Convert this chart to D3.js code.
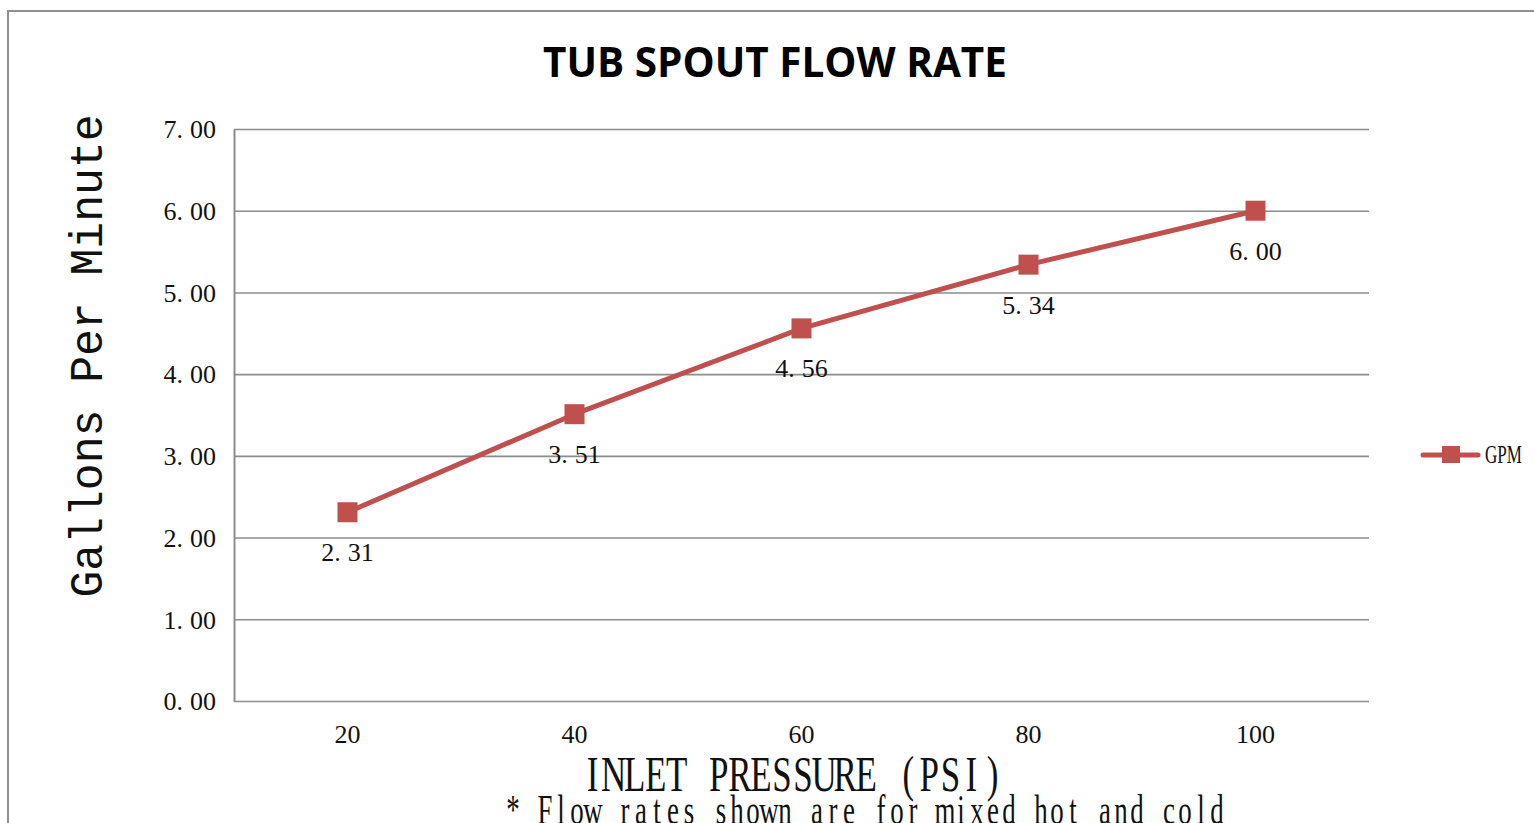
<!DOCTYPE html>
<html>
<head>
<meta charset="utf-8">
<script src="https://cdn.jsdelivr.net/npm/d3@7"></script>
<style>
  html, body { margin: 0; padding: 0; background: #fff; overflow: hidden; }
  svg { display: block; }
</style>
</head>
<body>
<script>
// ---- data ----
const pressures = [20, 40, 60, 80, 100];
const gpm = [2.31, 3.51, 4.56, 5.34, 6.00];
const yTicks = [0, 1, 2, 3, 4, 5, 6, 7];
const seriesName = "GPM";
const titleText = "TUB SPOUT FLOW RATE";
const yTitle = "Gallons Per Minute";
const xTitle = "INLET PRESSURE (PSI)";
const footnote = "* Flow rates shown are for mixed hot and cold";

const W = 1534, H = 823;
const plot = { left: 234, right: 1369, top: 129, bottom: 701 };
const red = "#C0504D";
const grid = "#8c8c8c";
const serif = "'Liberation Serif', 'DejaVu Serif', serif";

const svg = d3.select("body").append("svg").attr("width", W).attr("height", H);

// outer frame
svg.append("path")
  .attr("d", `M8,${H + 5} L8,11 L${W + 5},11`)
  .attr("fill", "none").attr("stroke", "#8f8f8f").attr("stroke-width", 2);

const x = d3.scaleBand().domain(pressures).range([plot.left, plot.right]);
const cx = d => x(d) + x.bandwidth() / 2;
const y = d3.scaleLinear().domain([0, 7]).range([plot.bottom, plot.top]);

// split "7.00" into "7." + "00" with a gap like the reference font
function fmtSplit(sel, v) {
  const s = d3.format(".2f")(v);
  const i = s.indexOf(".");
  sel.text(null);
  sel.append("tspan").text(s.slice(0, i + 1));
  sel.append("tspan").attr("dx", 7).text(s.slice(i + 1));
}

// fixed-cell (half-width) serif text, like the reference's CJK font
function cellText(str, x0, baseline, cell, fontSize, sx) {
  const xs = Array.from(str).map((c, i) => ((i + 0.5) * cell / sx).toFixed(2)).join(" ");
  return svg.append("text")
    .attr("transform", `translate(${x0},${baseline}) scale(${sx},1)`)
    .attr("x", xs).attr("y", 0)
    .attr("text-anchor", "middle")
    .attr("font-family", serif).attr("font-size", fontSize).attr("fill", "#111")
    .text(str);
}

// y axis + gridlines
const yAxis = svg.append("g")
  .attr("transform", `translate(${plot.left},0)`)
  .call(d3.axisLeft(y).tickValues(yTicks)
    .tickSizeInner(-(plot.right - plot.left)).tickSizeOuter(0).tickPadding(18));
yAxis.select(".domain").attr("stroke", grid).attr("stroke-width", 2);
yAxis.selectAll(".tick line").attr("stroke", grid).attr("stroke-width", 1.6);
yAxis.selectAll(".tick text")
  .attr("font-family", serif).attr("font-size", 26).attr("fill", "#111")
  .attr("dy", "0.34em")
  .each(function (d) { fmtSplit(d3.select(this), d); });

// x axis labels
const xAxis = svg.append("g")
  .attr("transform", `translate(0,${plot.bottom})`)
  .call(d3.axisBottom(x).tickSize(0).tickPadding(24));
xAxis.select(".domain").remove();
xAxis.selectAll(".tick text")
  .attr("font-family", serif).attr("font-size", 26).attr("fill", "#111");

// line
const line = d3.line().x((d, i) => cx(pressures[i])).y(d => y(d));
svg.append("path").datum(gpm)
  .attr("d", line).attr("fill", "none")
  .attr("stroke", red).attr("stroke-width", 5).attr("stroke-linejoin", "round");

// markers
const ms = 20;
svg.selectAll("rect.mk").data(gpm).enter().append("rect")
  .attr("class", "mk")
  .attr("x", (d, i) => cx(pressures[i]) - ms / 2)
  .attr("y", d => y(d) - ms / 2)
  .attr("width", ms).attr("height", ms)
  .attr("fill", red);

// data labels
svg.selectAll("text.dl").data(gpm).enter().append("text")
  .attr("class", "dl")
  .attr("x", (d, i) => cx(pressures[i]))
  .attr("y", d => y(d) + 49)
  .attr("text-anchor", "middle")
  .attr("font-family", serif).attr("font-size", 26).attr("fill", "#111")
  .each(function (d) { fmtSplit(d3.select(this), d); });

// title
svg.append("text")
  .attr("x", 775).attr("y", 77).attr("text-anchor", "middle")
  .attr("font-family", "'Open Sans', 'Noto Sans', sans-serif")
  .attr("font-weight", 700).attr("font-size", 42).attr("fill", "#000")
  .attr("textLength", 464).attr("lengthAdjust", "spacingAndGlyphs")
  .text(titleText);

// y title
svg.append("text")
  .attr("transform", "translate(102,356) rotate(-90)")
  .attr("text-anchor", "middle")
  .attr("font-family", "'Liberation Mono', 'DejaVu Sans Mono', monospace")
  .attr("font-size", 46).attr("fill", "#111")
  .attr("textLength", 483).attr("lengthAdjust", "spacingAndGlyphs")
  .text(yTitle);

// x title
cellText(xTitle, 582, 791, 21.05, 50, 0.7);

// footnote (cut off at bottom like the reference)
cellText(footnote, 505, 824, 16, 42, 0.64);

// legend
const lg = svg.append("g").attr("transform", "translate(1451,455)");
lg.append("line").attr("x1", -28).attr("x2", 27).attr("y1", 0).attr("y2", 0)
  .attr("stroke", red).attr("stroke-width", 5).attr("stroke-linecap", "round");
lg.append("rect").attr("x", -9).attr("y", -9).attr("width", 18).attr("height", 17).attr("fill", red);
lg.append("text").attr("x", 34).attr("y", 8)
  .attr("font-family", serif).attr("font-size", 25).attr("fill", "#111")
  .attr("textLength", 37).attr("lengthAdjust", "spacingAndGlyphs")
  .text(seriesName);
</script>
</body>
</html>
